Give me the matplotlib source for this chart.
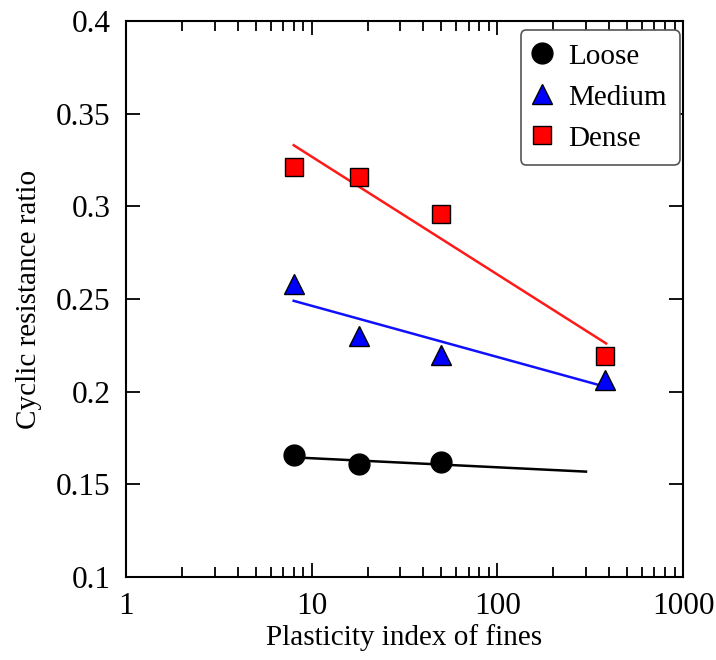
import numpy as np
import matplotlib
matplotlib.use("Agg")
import matplotlib.pyplot as plt
from matplotlib.ticker import LogLocator, NullFormatter

plt.rcParams["font.family"] = ["Liberation Serif", "DejaVu Serif"]

# measured points (plasticity index, CRR)
pi_vals = [8, 18, 50, 380]
loose = [0.166, 0.161, 0.162]
medium = [0.258, 0.230, 0.220, 0.206]
dense = [0.321, 0.316, 0.296, 0.219]

# trend lines (end points)
loose_fit_x = [8, 300]
loose_fit_y = [0.1645, 0.1568]
medium_fit_x = [8, 385]
medium_fit_y = [0.249, 0.2025]
dense_fit_x = [8, 385]
dense_fit_y = [0.333, 0.226]

fig = plt.figure(figsize=(7.16, 6.6), dpi=100)
ax = fig.add_axes([0.176, 0.126, 0.778, 0.842])

ax.plot(loose_fit_x, loose_fit_y, color="black", lw=1.8)
ax.plot(medium_fit_x, medium_fit_y, color="#1010ff", lw=1.8)
ax.plot(dense_fit_x, dense_fit_y, color="#ff1a1a", lw=1.8)

ax.plot(pi_vals[:3], loose, "o", ms=15, color="black", mec="black", label="Loose")
ax.plot(pi_vals, medium, "^", ms=15, color="#0000ff", mec="black", mew=1, label="Medium")
ax.plot(pi_vals, dense, "s", ms=12.5, color="#ff0000", mec="black", mew=1, label="Dense")

ax.set_xscale("log")
ax.set_xlim(1, 1000)
ax.set_ylim(0.1, 0.4)
ax.set_xticks([1, 10, 100, 1000])
ax.set_xticklabels(["1", "10", "100", "1000"])
ax.xaxis.set_minor_locator(LogLocator(base=10, subs=np.arange(2, 10)))
ax.xaxis.set_minor_formatter(NullFormatter())
ax.set_yticks([0.1, 0.15, 0.2, 0.25, 0.3, 0.35, 0.4])
ax.set_yticklabels(["0.1", "0.15", "0.2", "0.25", "0.3", "0.35", "0.4"])

ax.tick_params(which="both", direction="in", top=True, right=True, width=1.3,
               labelsize=22.5, pad=11)
ax.tick_params(which="major", length=10)
ax.tick_params(which="minor", length=7)
for s in ax.spines.values():
    s.set_linewidth(1.5)

ax.set_xlabel("Plasticity index of fines", fontsize=21, labelpad=2)
ax.set_ylabel("Cyclic resistance ratio", fontsize=21, labelpad=10)

leg = ax.legend(loc="upper right", bbox_to_anchor=(0.995, 0.984), fontsize=21,
                frameon=True, fancybox=True, handletextpad=0.6, borderpad=0.45,
                labelspacing=0.5, handlelength=0.6, borderaxespad=0)
leg.get_frame().set_edgecolor("#555555")
leg.get_frame().set_linewidth(1.2)
leg.get_frame().set_alpha(1)

fig.savefig("out.png", dpi=100)
